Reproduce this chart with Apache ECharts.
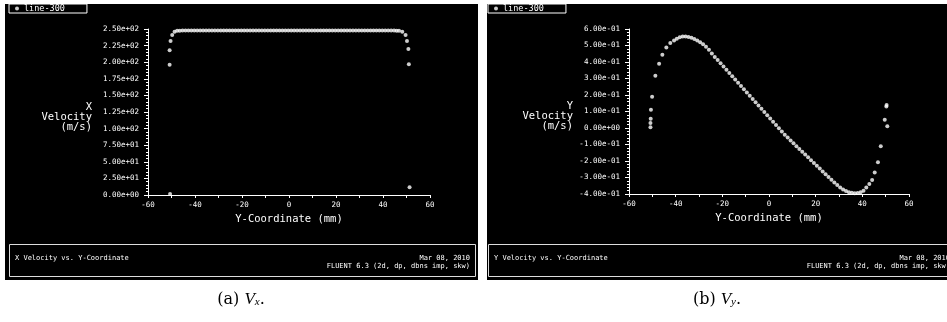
<!DOCTYPE html>
<html>
<head>
<meta charset="utf-8">
<script src="https://cdn.jsdelivr.net/npm/echarts@6/dist/echarts.min.js"></script>
<style>
html,body{margin:0;padding:0;background:#fff;}
#chart{width:947px;height:322px;}
</style>
</head>
<body>
<div id="chart"></div>
<script>
// ---------------- data ----------------
var xTicks = [-60, -40, -20, 0, 20, 40, 60];
var seriesName = 'line-300';

// Panel (a): X Velocity vs Y-Coordinate
var vxPos = [-50.6, -50.8, -50.8, -50.4, -49.7, -48.7, -47.6, -46.5,
  -45.3, -44.05, -42.8, -41.55, -40.3, -39.05, -37.8, -36.55, -35.3, -34.05,
  -32.8, -31.55, -30.3, -29.05, -27.8, -26.55, -25.3, -24.05, -22.8, -21.55,
  -20.3, -19.05, -17.8, -16.55, -15.3, -14.05, -12.8, -11.55, -10.3, -9.05,
  -7.8, -6.55, -5.3, -4.05, -2.8, -1.55, -0.3, 0.95, 2.2, 3.45, 4.7, 5.95,
  7.2, 8.45, 9.7, 10.95, 12.2, 13.45, 14.7, 15.95, 17.2, 18.45, 19.7, 20.95,
  22.2, 23.45, 24.7, 25.95, 27.2, 28.45, 29.7, 30.95, 32.2, 33.45, 34.7,
  35.95, 37.2, 38.45, 39.7, 40.95, 42.2, 43.45, 44.7, 45.8,
  46.8, 48.2, 49.6, 50.2, 50.8, 51.0, 51.3];
var vxVal = [1.5, 196, 218, 232, 241, 245.8, 247.2, 247.5,
  247.6, 247.6, 247.6, 247.7, 247.7, 247.7, 247.7, 247.7, 247.7, 247.7,
  247.7, 247.7, 247.7, 247.7, 247.7, 247.7, 247.7, 247.7, 247.7, 247.7,
  247.7, 247.7, 247.7, 247.7, 247.7, 247.7, 247.7, 247.7, 247.7, 247.7,
  247.7, 247.7, 247.7, 247.7, 247.7, 247.7, 247.7, 247.7, 247.7, 247.7, 247.7, 247.7,
  247.7, 247.7, 247.7, 247.7, 247.7, 247.7, 247.7, 247.7, 247.7, 247.7, 247.7, 247.7,
  247.7, 247.7, 247.7, 247.7, 247.7, 247.7, 247.7, 247.7, 247.7, 247.7, 247.7,
  247.7, 247.7, 247.7, 247.7, 247.6, 247.6, 247.6, 247.6, 247.5,
  247.4, 245.8, 241, 232, 220, 197, 11.6];

// Panel (b): Y Velocity vs Y-Coordinate
var vyPos = [-50.8, -50.8, -50.7, -50.6, -50.1, -48.7, -47.1, -45.7, -44.0, -42.3, -40.7,
  -39.5, -38.25, -37, -35.75, -34.5, -33.25, -32, -30.75, -29.5, -28.25, -27, -25.75,
  -24.5, -23.25, -22, -20.75, -19.5, -18.25, -17, -15.75, -14.5, -13.25, -12, -10.75,
  -9.5, -8.25, -7, -5.75, -4.5, -3.25, -2, -0.75, 0.5, 1.75, 3, 4.25, 5.5, 6.75,
  8, 9.25, 10.5, 11.75, 13, 14.25, 15.5, 16.75, 18, 19.25, 20.5, 21.75, 23, 24.25,
  25.5, 26.75, 28, 29.25, 30.5, 31.75, 33, 34.25, 35.5, 36.75, 38, 39.25, 40.5,
  41.7, 43.0, 44.2, 45.3, 46.7, 47.9, 49.6, 50.3, 50.4, 50.7];
var vyVal = [0.004, 0.03, 0.056, 0.11, 0.19, 0.317, 0.39, 0.444, 0.488, 0.515, 0.531,
  0.541, 0.550, 0.555, 0.555, 0.552, 0.547, 0.540, 0.531, 0.520, 0.507, 0.492, 0.474,
  0.451, 0.431, 0.412, 0.392, 0.372, 0.353, 0.333, 0.313, 0.294, 0.274, 0.254, 0.235,
  0.215, 0.195, 0.176, 0.156, 0.136, 0.117, 0.097, 0.077, 0.058, 0.038, 0.018, -0.001, -0.021, -0.041,
  -0.058, -0.075, -0.092, -0.110, -0.127, -0.144, -0.161, -0.178, -0.195, -0.212, -0.229, -0.246, -0.263, -0.280,
  -0.297, -0.313, -0.330, -0.345, -0.360, -0.372, -0.382, -0.389, -0.393, -0.395, -0.394, -0.390, -0.380,
  -0.360, -0.340, -0.315, -0.269, -0.208, -0.110, 0.050, 0.130, 0.140, 0.010];

// ---------------- helpers ----------------
function pairs(xs, ys) { return xs.map(function (x, i) { return [x, ys[i]]; }); }
function sci(v) {
  if (Math.abs(v) < 1e-9) return '0.00e+00';
  var s = Number(v).toExponential(2);
  return s.replace(/e([+-])(\d+)$/, function (m, sg, d) { return 'e' + sg + (d.length < 2 ? '0' + d : d); });
}
var MONO = '"DejaVu Sans Mono", "Liberation Mono", monospace';

function xAxisCfg(gi) {
  return {
    type: 'value', gridIndex: gi, min: -60, max: 60, interval: 20,
    name: 'Y-Coordinate (mm)', nameLocation: 'middle', nameGap: 19,
    nameTextStyle: { color: '#fff', fontFamily: MONO, fontSize: 10.5 },
    axisLine: { show: true, onZero: false, lineStyle: { color: '#fff', width: 1 } },
    axisTick: { show: true, length: 3, lineStyle: { color: '#fff' } },
    minorTick: { show: true, splitNumber: 2, length: 3, lineStyle: { color: '#fff' } },
    axisLabel: { color: '#fff', fontFamily: MONO, fontSize: 7.5, margin: 6 },
    splitLine: { show: false }
  };
}
function yAxisCfg(gi, mn, mx, step, nm) {
  return {
    type: 'value', gridIndex: gi, min: mn, max: mx, interval: step,
    name: nm, nameLocation: 'middle', nameGap: 56, nameRotate: 0,
    nameTextStyle: { color: '#fff', fontFamily: MONO, fontSize: 10.5, lineHeight: 10, align: 'right' },
    axisLine: { show: true, onZero: false, lineStyle: { color: '#fff', width: 1 } },
    axisTick: { show: true, length: 4, lineStyle: { color: '#fff' } },
    minorTick: { show: true, splitNumber: 5, length: 2, lineStyle: { color: '#fff' } },
    axisLabel: { color: '#fff', fontFamily: MONO, fontSize: 7.5, margin: 9, formatter: sci },
    splitLine: { show: false }
  };
}
function legendCfg(left) {
  return {
    left: left, top: 4, data: [seriesName], orient: 'horizontal',
    borderColor: '#fff', borderWidth: 1, padding: [0, 22, 0, 6], itemGap: 4,
    itemWidth: 4, itemHeight: 4, icon: 'circle',
    textStyle: { color: '#fff', fontFamily: MONO, fontSize: 8.5, lineHeight: 7 },
    selectedMode: false
  };
}
function statusText(x, y, txt, align) {
  return { type: 'text', x: x, y: y, z: 1, silent: true,
    style: { text: txt, fill: '#fff', font: '7px ' + MONO, textAlign: align, textVerticalAlign: 'middle' } };
}
function caption(cx, letter, sub) {
  return { type: 'text', x: cx, y: 298, z: 1, silent: true,
    style: {
      text: '{n|(' + letter + ') }{v|V}{s|' + sub + '}{n|.}',
      textAlign: 'center', textVerticalAlign: 'middle',
      rich: {
        n: { fontFamily: '"DejaVu Serif", "Liberation Serif", serif', fontSize: 16, fill: '#000', verticalAlign: 'bottom', lineHeight: 20 },
        v: { fontFamily: '"Liberation Serif", "DejaVu Serif", serif', fontStyle: 'italic', fontSize: 17, fill: '#000', verticalAlign: 'bottom', lineHeight: 20 },
        s: { fontFamily: '"Liberation Serif", "DejaVu Serif", serif', fontStyle: 'italic', fontSize: 11, fill: '#000', verticalAlign: 'bottom', lineHeight: 14 }
      }
    } };
}

var chart = echarts.init(document.getElementById('chart'), null, { renderer: 'canvas' });
chart.setOption({
  backgroundColor: '#fff',
  animation: false,
  grid: [
    { left: 148, right: 517, top: 29, bottom: 127 },
    { left: 629, right: 38, top: 29, bottom: 128 }
  ],
  legend: [legendCfg(9), legendCfg(488)],
  xAxis: [xAxisCfg(0), xAxisCfg(1)],
  yAxis: [
    yAxisCfg(0, 0, 250, 25, ' \nX\nVelocity\n(m/s)'),
    yAxisCfg(1, -0.4, 0.6, 0.1, ' \nY\nVelocity\n(m/s)')
  ],
  series: [
    { name: seriesName, type: 'scatter', xAxisIndex: 0, yAxisIndex: 0, z: 5,
      symbol: 'circle', symbolSize: 4, itemStyle: { color: '#fff' }, data: pairs(vxPos, vxVal) },
    { name: seriesName, type: 'scatter', xAxisIndex: 1, yAxisIndex: 1, z: 5,
      symbol: 'circle', symbolSize: 4, itemStyle: { color: '#fff' }, data: pairs(vyPos, vyVal) }
  ],
  graphic: [
    { type: 'rect', z: -10, silent: true, shape: { x: 5, y: 4, width: 473, height: 276 }, style: { fill: '#000' } },
    { type: 'rect', z: -10, silent: true, shape: { x: 487, y: 4, width: 470, height: 276 }, style: { fill: '#000' } },
    { type: 'rect', z: 1, silent: true, shape: { x: 9.5, y: 244.5, width: 466, height: 32 }, style: { fill: 'none', stroke: '#ddd', lineWidth: 1 } },
    { type: 'rect', z: 1, silent: true, shape: { x: 488.5, y: 244.5, width: 470, height: 32 }, style: { fill: 'none', stroke: '#ddd', lineWidth: 1 } },
    statusText(15, 258, 'X Velocity vs. Y-Coordinate', 'left'),
    statusText(470, 258, 'Mar 08, 2010', 'right'),
    statusText(470, 266, 'FLUENT 6.3 (2d, dp, dbns imp, skw)', 'right'),
    statusText(494, 258, 'Y Velocity vs. Y-Coordinate', 'left'),
    statusText(950, 258, 'Mar 08, 2010', 'right'),
    statusText(950, 266, 'FLUENT 6.3 (2d, dp, dbns imp, skw)', 'right'),
    caption(241, 'a', 'x'),
    caption(717, 'b', 'y')
  ]
});
</script>
</body>
</html>
